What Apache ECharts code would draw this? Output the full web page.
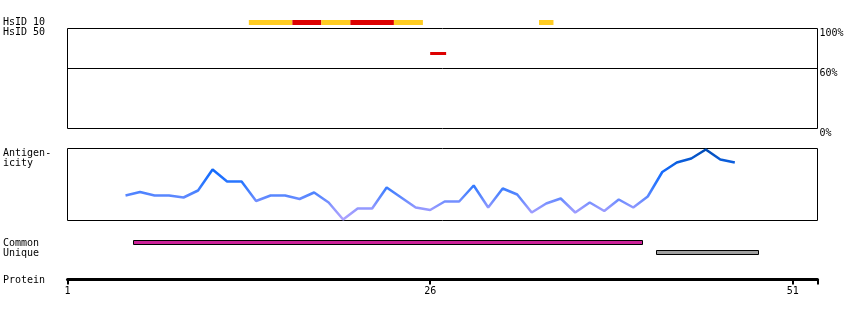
<!DOCTYPE html>
<html><head><meta charset="utf-8">
<script src="https://cdn.jsdelivr.net/npm/echarts@6/dist/echarts.min.js"></script>
<style>html,body{margin:0;padding:0;background:#fff}#c{width:850px;height:320px}</style>
</head><body><div id="c"></div>
<script>
// ---- data ----
const residues = [5,6,7,8,9,10,11,12,13,14,15,16,17,18,19,20,21,22,23,24,25,26,27,28,29,30,31,32,33,34,35,36,37,38,39,40,41,42,43,44,45,46,47];
const antigenicity = [25,28.5,25,25,23,30,51,39,39,19.5,25,25,21.5,28,18,1,12,12,33,23,13,10.5,19,19,35,13,32,26,8,17,22,8,18,9.5,21,13,24,48.5,58,62,71,61,58];
// [start, end, level] level: 'high' | 'mid'
const hsid10Segments = [[13.5,16.5,'mid'],[16.5,18.5,'high'],[18.5,20.5,'mid'],[20.5,23.5,'high'],[23.5,25.5,'mid'],[33.5,34.5,'mid']];
// [start, end, identity %]
const hsid50Segments = [[26,27.1,75]];
const commonRegions = [[5.55,40.64]];
const uniqueRegions = [[41.6,48.63]];
const proteinTickValues = [1,26,51];
const proteinEnd = 52.7;
const identityTickValues = [0,60,100];
const rowLabels = [['HsID 10',22.7],['HsID 50',32.7],['Antigen-',153.3],['icity',163.3],['Common',243.3],['Unique',253.3],['Protein',280]];

// ---- chart ----
const FONT = '"DejaVu Sans Mono", monospace';
const levelColor = {high:'#DD0000', mid:'#FFCC22'};
const L = 67.5, W = 750;
const snap = v => Math.round(v - 0.5) + 0.5;

function hiddenX(i){ return {gridIndex:i, type:'value', min:1, max:proteinEnd, show:false}; }

function bandRender(params, api){
  const s = api.coord([api.value(0), 0]), e = api.coord([api.value(1), 0]);
  const cs = params.coordSys;
  return {type:'rect', shape:{x:s[0], y:cs.y, width:e[0]-s[0], height:cs.height}, style:{fill:api.visual('color')}};
}
function boxRender(params, api){
  const s = snap(api.coord([api.value(0), 0])[0]), e = snap(api.coord([api.value(1), 0])[0]);
  const cs = params.coordSys;
  return {type:'rect', shape:{x:s, y:cs.y+0.5, width:e-s, height:cs.height-1}, style:{fill:api.visual('color'), stroke:'#000', lineWidth:1}};
}
function hsid50Render(params, api){
  const s = api.coord([api.value(0), api.value(2)]), e = api.coord([api.value(1), api.value(2)]);
  return {type:'rect', shape:{x:s[0], y:s[1]-1.5, width:e[0]-s[0], height:3}, style:{fill:api.visual('color')}};
}

const option = {
  animation:false,
  backgroundColor:'#fff',
  grid:[
    {left:L, top:20, width:W, height:5},
    {left:L, top:28.5, width:W, height:100, show:true, borderColor:'#000', borderWidth:1},
    {left:L, top:148.5, width:W, height:72, show:true, borderColor:'#000', borderWidth:1},
    {left:L, top:240, width:W, height:5},
    {left:L, top:250, width:W, height:5},
    {left:L, top:277.5, width:W, height:2}
  ],
  xAxis:[hiddenX(0), hiddenX(1), hiddenX(2), hiddenX(3), hiddenX(4),
    {gridIndex:5, type:'value', min:1, max:proteinEnd, position:'bottom',
     axisLine:{show:true, lineStyle:{color:'#000', width:3}},
     axisTick:{show:true, length:5, lineStyle:{color:'#000', width:2}, customValues:proteinTickValues.concat([proteinEnd])},
     axisLabel:{show:true, customValues:proteinTickValues, margin:7, color:'#000', fontSize:10, fontFamily:FONT},
     splitLine:{show:false}}
  ],
  yAxis:[
    {gridIndex:0, type:'value', min:0, max:1, show:false},
    {gridIndex:1, type:'value', min:0, max:100, position:'right',
     axisLine:{show:false}, axisTick:{show:false}, splitLine:{show:false},
     axisLabel:{show:true, customValues:identityTickValues, formatter:'{value}%', margin:2, verticalAlign:'top', color:'#000', fontSize:10, fontFamily:FONT, showMinLabel:true, showMaxLabel:true}},
    {gridIndex:2, type:'value', min:0, max:72, show:false},
    {gridIndex:3, type:'value', min:0, max:1, show:false},
    {gridIndex:4, type:'value', min:0, max:1, show:false},
    {gridIndex:5, type:'value', min:0, max:1, show:false}
  ],
  visualMap:{type:'continuous', show:false, seriesIndex:2, dimension:1, min:0, max:72,
    inRange:{color:['#B0A4FF','#9499FF','#5C88FF','#2E78FF','#166CFF','#0A5CD8','#004AB0']}},
  series:[
    {type:'custom', xAxisIndex:0, yAxisIndex:0, renderItem:bandRender,
     data:hsid10Segments.map(s=>({value:[s[0],s[1]], itemStyle:{color:levelColor[s[2]]}}))},
    {type:'custom', xAxisIndex:1, yAxisIndex:1, renderItem:hsid50Render,
     data:hsid50Segments.map(s=>({value:[s[0],s[1],s[2]], itemStyle:{color:levelColor.high}})),
     markLine:{silent:true, symbol:'none', label:{show:false}, lineStyle:{color:'#000', width:1, type:'solid'}, data:[{yAxis:60}]}},
    {type:'line', xAxisIndex:2, yAxisIndex:2, showSymbol:false, symbol:'none',
     lineStyle:{width:2.5}, data:residues.map((r,i)=>[r, antigenicity[i]])},
    {type:'custom', xAxisIndex:3, yAxisIndex:3, renderItem:boxRender,
     data:commonRegions.map(s=>({value:s, itemStyle:{color:'#CC2299'}}))},
    {type:'custom', xAxisIndex:4, yAxisIndex:4, renderItem:boxRender,
     data:uniqueRegions.map(s=>({value:s, itemStyle:{color:'#A0A0A0'}}))}
  ],
  graphic: rowLabels.map(([t,y])=>({type:'text', x:3, y:y, silent:true,
    style:{text:t, fill:'#000', font:'10px '+FONT, verticalAlign:'middle', align:'left'}}))
};
const chart = echarts.init(document.getElementById('c'), null, {renderer:'canvas'});
chart.setOption(option);
</script></body></html>
